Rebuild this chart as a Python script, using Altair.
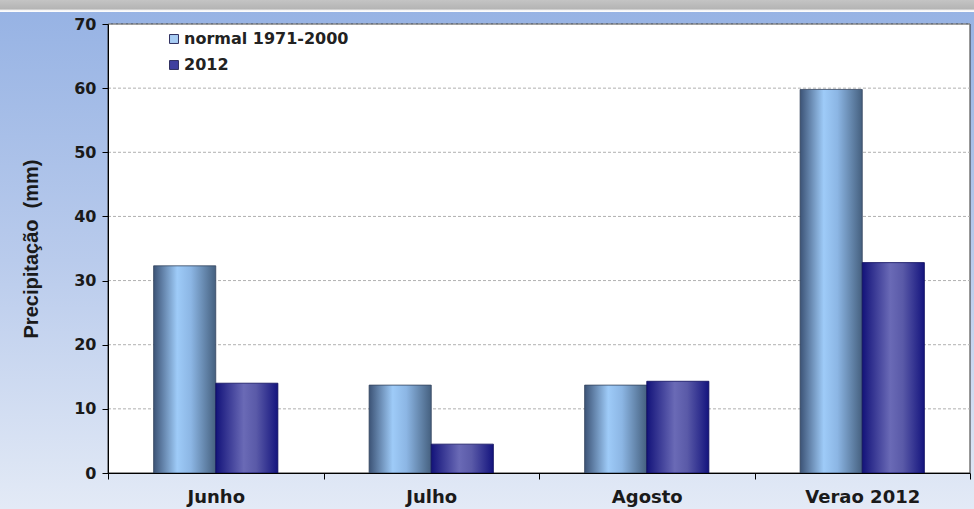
import altair as alt
import pandas as pd

categories = ["Junho", "Julho", "Agosto", "Verao 2012"]
series = ["normal 1971-2000", "2012"]
normal_vals = [32.3, 13.7, 13.7, 59.8]
y2012_vals = [14.0, 4.5, 14.3, 32.8]
grid_vals = [10, 20, 30, 40, 50, 60, 70]

rows = []
for c, v in zip(categories, normal_vals):
    rows.append({"cat": c, "serie": series[0], "val": v})
for c, v in zip(categories, y2012_vals):
    rows.append({"cat": c, "serie": series[1], "val": v})
df = pd.DataFrame(rows)
grid_df = pd.DataFrame({"g": grid_vals})

W, H = 862, 449

xscale = alt.Scale(domain=categories, paddingInner=0, paddingOuter=0)
xoff = alt.Scale(domain=series, paddingInner=0, paddingOuter=0.734)
yscale = alt.Scale(domain=[0, 70], nice=False)

one = pd.DataFrame({"a": [0]})

bg = alt.Chart(one).mark_rect(
    fill=alt.Gradient(gradient="linear", x1=0, x2=0, y1=0, y2=1,
                      stops=[alt.GradientStop(offset=0, color="#97b3e4"),
                             alt.GradientStop(offset=0.5, color="#b9cbec"),
                             alt.GradientStop(offset=1, color="#e3eaf6")])
).encode(x=alt.value(-108), x2=alt.value(W + 4), y=alt.value(-12), y2=alt.value(H + 36))

topband = alt.Chart(one).mark_rect(
    fill=alt.Gradient(gradient="linear", x1=0, x2=0, y1=0, y2=1,
                      stops=[alt.GradientStop(offset=0, color="#c4c4c4"),
                             alt.GradientStop(offset=0.75, color="#b4b4b4"),
                             alt.GradientStop(offset=0.85, color="#f4f4f4"),
                             alt.GradientStop(offset=1, color="#ffffff")])
).encode(x=alt.value(-108), x2=alt.value(W + 4), y=alt.value(-24), y2=alt.value(-12))

white = alt.Chart(one).mark_rect(fill="white", stroke="#303030", strokeWidth=1).encode(
    x=alt.value(0), x2=alt.value(W), y=alt.value(0), y2=alt.value(H))

grid = alt.Chart(grid_df).mark_rule(color="#b0b0b0", strokeDash=[3, 2], strokeWidth=1).encode(
    y=alt.Y("g:Q", scale=yscale), x=alt.value(0), x2=alt.value(W))

grad_normal = alt.Gradient(gradient="linear", x1=0, x2=1, y1=0, y2=0,
                           stops=[alt.GradientStop(offset=0, color="#3c5376"),
                                  alt.GradientStop(offset=0.38, color="#9ecbf8"),
                                  alt.GradientStop(offset=0.6, color="#8cb6e4"),
                                  alt.GradientStop(offset=1, color="#45607f")])
grad_2012 = alt.Gradient(gradient="linear", x1=0, x2=1, y1=0, y2=0,
                         stops=[alt.GradientStop(offset=0, color="#13137a"),
                                alt.GradientStop(offset=0.45, color="#6a6ab6"),
                                alt.GradientStop(offset=0.65, color="#5a5aa8"),
                                alt.GradientStop(offset=1, color="#14147e")])

enc = dict(
    x=alt.X("cat:N", scale=xscale, sort=categories,
            axis=alt.Axis(title=None, labelAngle=0, labelFont="DejaVu Sans",
                          labelFontWeight="bold", labelFontSize=18, labelColor="#1a1a1a",
                          labelPadding=9, domainColor="#000000", tickColor="#000000",
                          tickSize=6, tickBand="extent", grid=False, zindex=1)),
    xOffset=alt.XOffset("serie:N", scale=xoff, sort=series),
    y=alt.Y("val:Q", scale=yscale,
            axis=alt.Axis(title="Precipitação\u00a0\u00a0(mm)", titleFont="Liberation Sans",
                          titleFontWeight="bold", titleFontSize=20, titleColor="#1a1a1a",
                          titlePadding=32, values=grid_vals + [0], labelFont="DejaVu Sans",
                          labelFontWeight="bold", labelFontSize=16, labelColor="#1a1a1a",
                          labelPadding=6, domainColor="#000000", tickColor="#000000",
                          tickSize=6, grid=False, zindex=1)),
)

bars_n = alt.Chart(df).transform_filter(alt.datum.serie == series[0]).mark_bar(
    fill=grad_normal, stroke="#34445e", strokeWidth=0.8).encode(**enc)
bars_y = alt.Chart(df).transform_filter(alt.datum.serie == series[1]).mark_bar(
    fill=grad_2012, stroke="#0d0d5c", strokeWidth=0.8).encode(**enc)

leg_df = pd.DataFrame({"serie": series})
legend = alt.Chart(leg_df).mark_square(opacity=0, size=0).encode(
    color=alt.Color("serie:N", sort=series,
                    scale=alt.Scale(domain=series, range=["#a8cdf4", "#3f3f9f"]),
                    legend=alt.Legend(title=None, orient="none", legendX=58, legendY=7,
                                      symbolType="square", symbolSize=80, symbolOpacity=1,
                                      symbolStrokeColor="#303060", symbolStrokeWidth=1,
                                      labelFont="DejaVu Sans", labelFontWeight="bold",
                                      labelFontSize=16, labelColor="#222222", labelLimit=400,
                                      rowPadding=10, labelOffset=2)))

chart = alt.layer(bg, topband, white, grid, bars_n, bars_y, legend).properties(
    width=W, height=H, padding=0, background="#ffffff"
).configure_view(stroke=None)

chart.save("out.html", embed_options={"renderer": "svg", "actions": False})
